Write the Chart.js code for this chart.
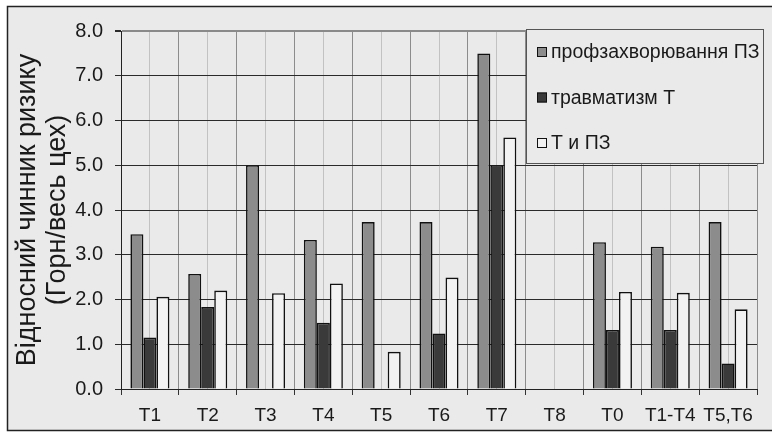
<!DOCTYPE html>
<html>
<head>
<meta charset="utf-8">
<script src="https://cdn.jsdelivr.net/npm/chart.js@4.4.1/dist/chart.umd.min.js"></script>
<style>
  html, body { margin: 0; padding: 0; background: #fff; }
  #wrap { width: 772px; height: 432px; }
</style>
</head>
<body>
<div id="wrap"><canvas id="chart" width="772" height="432"></canvas></div>
<script>
// workshops / groups of workplaces
const labels = ['T1', 'T2', 'T3', 'T4', 'T5', 'T6', 'T7', 'T8', 'T0', 'T1-T4', 'T5,T6'];

// relative risk factor per series (null = no bar)
const occupational = [3.46, 2.57, 5.0, 3.33, 3.73, 3.73, 7.5, null, 3.28, 3.18, 3.73];
const injuries = [1.15, 1.83, null, 1.48, null, 1.24, 5.0, null, 1.32, 1.32, 0.57];
const combined = [2.06, 2.2, 2.14, 2.36, 0.83, 2.49, 5.62, null, 2.17, 2.15, 1.78];

const seriesNames = ['профзахворювання ПЗ', 'травматизм Т', 'Т и ПЗ'];
const yTitle = ['Відносний чинник ризику', '(Горн/весь цех)'];
const yMin = 0;
const yMax = 8;
const yStep = 1;

const FONT = "'Liberation Sans', Arial, sans-serif";
const BG = '#eaeaea';
const INK = '#1a1a1a';

// grey panel with a dark frame behind the whole chart
const framePlugin = {
  id: 'frame',
  beforeDraw(chart) {
    const { ctx, width, height } = chart;
    ctx.save();
    ctx.fillStyle = '#fff';
    ctx.fillRect(0, 0, width, height);
    ctx.fillStyle = BG;
    ctx.fillRect(7, 6, width, 425);
    ctx.strokeStyle = '#222';
    ctx.lineWidth = 1.5;
    ctx.strokeRect(7.5, 6.5, width + 20, 424);
    ctx.restore();
  },
};

// legend box drawn over the top-right corner of the plot
const boxLegend = {
  id: 'boxLegend',
  afterDatasetsDraw(chart, args, opts) {
    const { ctx } = chart;
    const { x, y, w, h, rowY, gap } = opts;
    ctx.save();
    ctx.fillStyle = BG;
    ctx.fillRect(x, y, w, h);
    ctx.strokeStyle = '#555';
    ctx.lineWidth = 1;
    ctx.strokeRect(x + 0.5, y + 0.5, w, h);
    ctx.font = `19.5px ${FONT}`;
    ctx.textBaseline = 'middle';
    chart.data.datasets.forEach((ds, i) => {
      const cy = rowY + i * gap;
      ctx.fillStyle = ds.backgroundColor;
      ctx.fillRect(x + 11, cy - 5, 10, 10);
      ctx.strokeStyle = '#111';
      ctx.lineWidth = 1;
      ctx.strokeRect(x + 11.5, cy - 4.5, 9, 9);
      ctx.fillStyle = INK;
      ctx.fillText(ds.label, x + 25, cy + 1);
    });
    ctx.restore();
  },
};

const barStyle = { borderColor: '#111', borderWidth: 1.6, borderSkipped: 'start' };

new Chart(document.getElementById('chart'), {
  type: 'bar',
  data: {
    labels,
    datasets: [
      { label: seriesNames[0], data: occupational, backgroundColor: '#8c8c8c', ...barStyle },
      { label: seriesNames[1], data: injuries, backgroundColor: '#3a3a3a', ...barStyle },
      { label: seriesNames[2], data: combined, backgroundColor: '#f2f2f2', ...barStyle },
    ],
  },
  options: {
    responsive: false,
    animation: false,
    devicePixelRatio: 1,
    categoryPercentage: 0.675,
    barPercentage: 1.0,
    layout: { padding: { top: 31, right: 15, bottom: 0, left: 0 } },
    plugins: {
      legend: { display: false },
      tooltip: { enabled: false },
      boxLegend: { x: 526, y: 29, w: 237, h: 134, rowY: 52, gap: 45.5 },
    },
    scales: {
      x: {
        offset: true,
        afterFit: scale => { scale.height = 43; },
        grid: { offset: true, color: '#8c8c8c', tickColor: '#333', tickLength: 6, lineWidth: 1 },
        border: { color: '#222', width: 1 },
        ticks: { color: INK, padding: 9, font: { family: FONT, size: 19 } },
      },
      xc: {
        type: 'category',
        position: 'bottom',
        offset: true,
        afterFit: scale => { scale.height = 0; },
        grid: { offset: false, color: '#c2c2c2', drawTicks: false },
        border: { display: false },
        ticks: { display: false },
      },
      y: {
        min: yMin,
        max: yMax,
        afterFit: scale => { scale.width = 121; },
        grid: {
          color: c => (c.tick && c.tick.value === yMax ? '#8a8a8a' : '#2a2a2a'),
          lineWidth: c => (c.tick && c.tick.value === yMax ? 2 : 1),
          tickColor: '#2a2a2a',
          tickLength: 6,
        },
        border: { color: '#222', width: 1 },
        ticks: {
          stepSize: yStep,
          color: INK,
          padding: 12,
          font: { family: FONT, size: 20 },
          callback: v => v.toFixed(1),
        },
        title: {
          display: true,
          text: yTitle,
          color: INK,
          padding: { top: 13, bottom: 0 },
          font: { family: FONT, size: 27, lineHeight: 1.1 },
        },
      },
    },
  },
  plugins: [framePlugin, boxLegend],
});
</script>
</body>
</html>
